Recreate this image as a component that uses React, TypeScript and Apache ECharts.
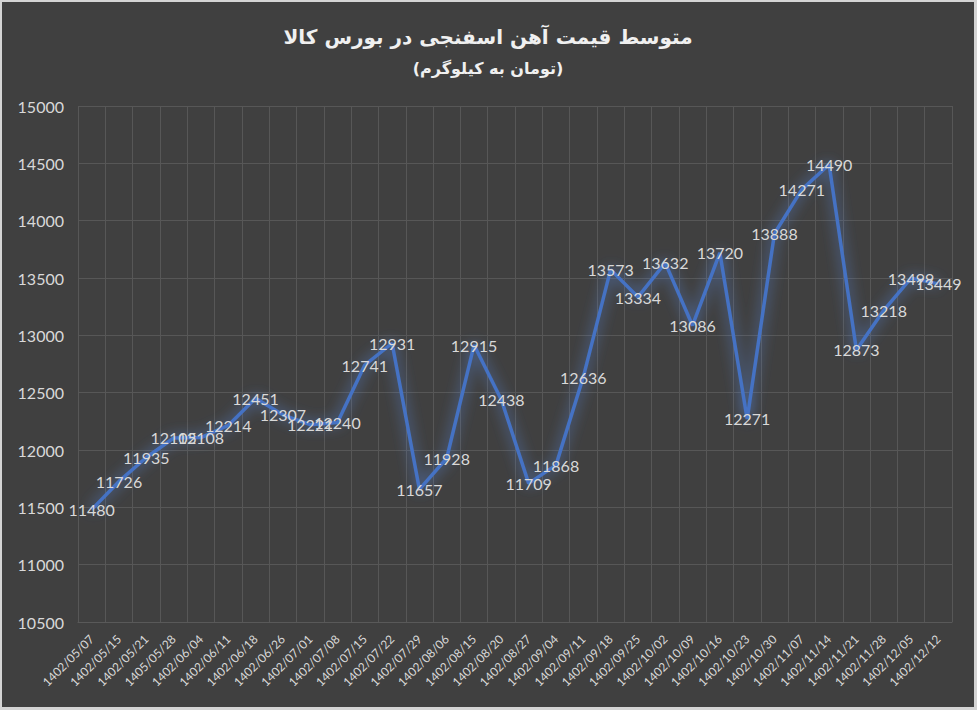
import React, { useEffect, useRef } from "react";
import * as echarts from "echarts";

const titleText = "متوسط قیمت آهن اسفنجی در بورس کالا";
const subtitleText = "(تومان به کیلوگرم)";

const categories = [
  "1402/05/07", "1402/05/15", "1402/05/21", "1405/05/28", "1402/06/04", "1402/06/11",
  "1402/06/18", "1402/06/26", "1402/07/01", "1402/07/08", "1402/07/15", "1402/07/22",
  "1402/07/29", "1402/08/06", "1402/08/15", "1402/08/20", "1402/08/27", "1402/09/04",
  "1402/09/11", "1402/09/18", "1402/09/25", "1402/10/02", "1402/10/09", "1402/10/16",
  "1402/10/23", "1402/10/30", "1402/11/07", "1402/11/14", "1402/11/21", "1402/11/28",
  "1402/12/05", "1402/12/12",
];

const prices = [
  11480, 11726, 11935, 12105, 12108, 12214,
  12451, 12307, 12221, 12240, 12741, 12931,
  11657, 11928, 12915, 12438, 11709, 11868,
  12636, 13573, 13334, 13632, 13086, 13720,
  12271, 13888, 14271, 14490, 12873, 13218,
  13499, 13449,
];

const yMin = 10500;
const yMax = 15000;
const yStep = 500;

export default function App() {
  const ref = useRef<HTMLDivElement>(null);

  useEffect(() => {
    document.body.style.margin = "0";
    if (!ref.current) return;
    const chart = echarts.init(ref.current, null, { renderer: "svg" });
    chart.setOption({
      animation: false,
      backgroundColor: "#404040",
      title: [
        {
          text: titleText,
          left: "center",
          top: 20,
          textStyle: {
            color: "#f0f0f0",
            fontSize: 20,
            fontWeight: "bold",
            fontFamily: "DejaVu Sans, Noto Sans, sans-serif",
          },
        },
        {
          text: subtitleText,
          left: "center",
          top: 53,
          textStyle: {
            color: "#f0f0f0",
            fontSize: 16,
            fontWeight: "bold",
            fontFamily: "DejaVu Sans, Noto Sans, sans-serif",
          },
        },
      ],
      grid: { left: 76, right: 22, top: 104, bottom: 85, containLabel: false },
      xAxis: {
        type: "category",
        data: categories,
        boundaryGap: true,
        axisLine: { show: true, lineStyle: { color: "#595959" } },
        axisTick: { show: false },
        splitLine: { show: true, lineStyle: { color: "#575757", width: 1 } },
        axisLabel: {
          interval: 0,
          rotate: 45,
          color: "#d9d9d9",
          fontSize: 12,
          margin: 15,
          fontFamily: "Lato, Open Sans, sans-serif",
        },
      },
      yAxis: {
        type: "value",
        min: yMin,
        max: yMax,
        interval: yStep,
        axisLine: { show: false },
        axisTick: { show: false },
        splitLine: { show: true, lineStyle: { color: "#575757", width: 1 } },
        axisLabel: {
          color: "#d9d9d9",
          fontSize: 16,
          margin: 14,
          formatter: (v: number) => String(v),
          fontFamily: "Lato, Open Sans, sans-serif",
        },
      },
      series: [
        {
          type: "line",
          data: prices,
          symbol: "circle",
          symbolSize: 1,
          showSymbol: true,
          itemStyle: { color: "rgba(68,114,196,0)" },
          lineStyle: {
            color: "#4472C4",
            width: 3.5,
            shadowColor: "rgba(90,140,230,0.9)",
            shadowBlur: 14,
          },
          label: {
            show: true,
            position: "inside",
            color: "#d9d9d9",
            fontSize: 16,
            fontFamily: "Lato, Open Sans, sans-serif",
          },
          z: 3,
        },
      ],
    });
    return () => chart.dispose();
  }, []);

  return (
    <div
      style={{
        width: 977,
        height: 710,
        boxSizing: "border-box",
        borderTop: "2px solid #d4d4d4",
        borderLeft: "2px solid #d4d4d4",
        borderRight: "3px solid #d4d4d4",
        borderBottom: "3px solid #d4d4d4",
        background: "#404040",
      }}
    >
      <div ref={ref} style={{ width: 972, height: 705 }} />
    </div>
  );
}
